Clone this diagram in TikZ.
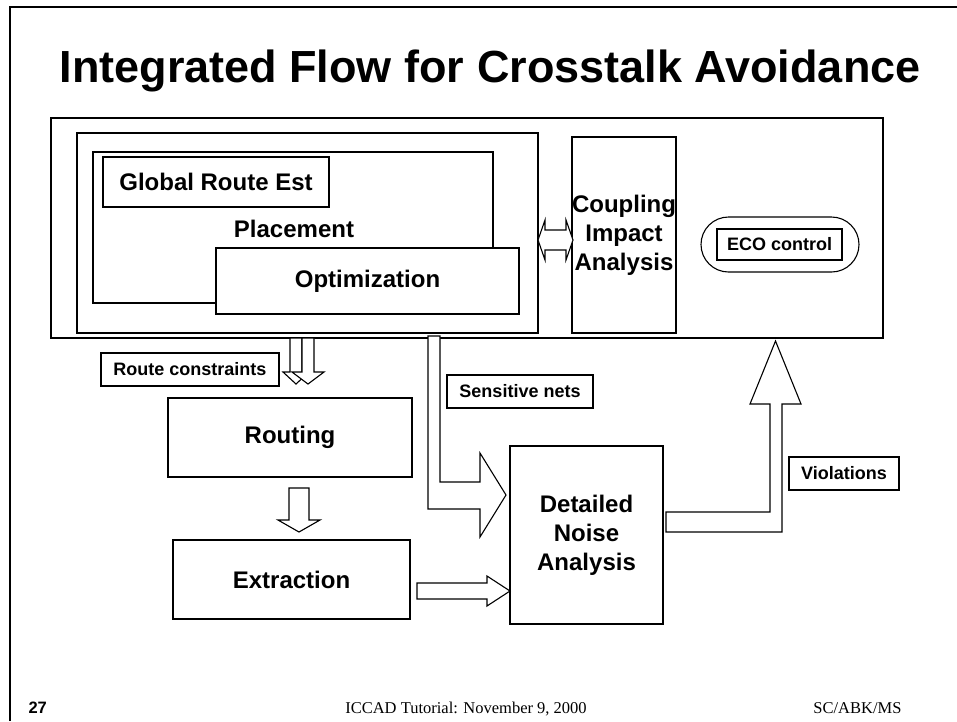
\documentclass[tikz,border=0pt]{standalone}
\usepackage{fontspec}
\setmainfont{Liberation Sans}
\newfontfamily\footserif{Liberation Serif}
\usetikzlibrary{calc}
\begin{document}
\begin{tikzpicture}[x=1pt,y=-1pt,
  box/.style={draw, line width=1.1pt, fill=white, inner sep=0pt, outer sep=0pt},
  lbl/.style={font=\bfseries\fontsize{24}{29}\selectfont, align=center},
  tag/.style={font=\bfseries\fontsize{18}{22}\selectfont},
  blk/.style={draw, line width=1.1pt, fill=white, line join=miter},
  frame/.style={draw, line width=2pt}]
\useasboundingbox (0,0) rectangle (957,721);

% slide frame
\draw[frame] (9.7,721) -- (9.7,6.7) -- (957,6.7);

% title
\node[font=\bfseries\fontsize{45}{54}\selectfont, anchor=base] (title) at (490,82)
  {Integrated Flow for Crosstalk Avoidance};

% placement block
\node[box, minimum width=832pt, minimum height=220pt] (outer) at (467,228) {};
\node[box, minimum width=461pt, minimum height=200pt] (plouter) at (307.5,233) {};
\node[box, minimum width=400pt, minimum height=151pt] (place) at (293,227.5) {};
\node[box, lbl, minimum width=226pt, minimum height=50pt] (gre) at (216,182) {Global Route Est};
\node[lbl, anchor=base] (placelbl) at (294,237) {Placement};
\node[box, lbl, minimum width=303pt, minimum height=66pt] (opt) at (367.5,281) {Optimization};

% coupling analysis
\node[box, lbl, minimum width=102pt, minimum height=196pt] (cia) at (624,235)
  {Coupling\\Impact\\Analysis};

% two-way exchange between placement and coupling analysis
\coordinate (dl) at ($(plouter.east)+(0,7)$);
\draw[blk] (dl) -- ++(7,-20) -- ++(0,10) -- ++(21,0) -- ++(0,-10) -- ++(7,20)
  -- ++(-7,20) -- ++(0,-10) -- ++(-21,0) -- ++(0,10) -- cycle;

% ECO control
\node[box, minimum width=158pt, minimum height=55pt, rounded corners=27.5pt] (ecopill) at (780,244.5) {};
\node[box, tag, minimum width=125pt, minimum height=31pt] (eco) at (779.5,244.5) {ECO control};

% route constraints to routing
\coordinate (rc1) at ($(outer.south west)+(239,0)$);
\draw[blk] (rc1) -- ++(12,0) -- ++(0,34) -- ++(7,0) -- ++(-13,12) -- ++(-13,-12) -- ++(7,0) -- cycle;
\coordinate (rc2) at ($(outer.south west)+(251,0)$);
\draw[blk] (rc2) -- ++(12,0) -- ++(0,34) -- ++(10,0) -- ++(-16,12) -- ++(-16,-12) -- ++(10,0) -- cycle;
\node[box, tag, minimum width=178pt, minimum height=33pt] (rc) at (190,369.5) {Route constraints};

% routing and extraction
\node[box, lbl, minimum width=244pt, minimum height=79pt] (routing) at (290,437.5) {Routing};
\node[box, lbl, minimum width=237pt, minimum height=79pt] (extr) at (291.5,579.5) {Extraction};
\coordinate (r2e) at ($(routing.south)+(-1,11)$);
\draw[blk] (r2e) -- ++(20,0) -- ++(0,32) -- ++(11,0) -- ++(-21,12) -- ++(-21,-12) -- ++(11,0) -- cycle;

% detailed noise analysis
\node[box, lbl, minimum width=153pt, minimum height=178pt] (noise) at (586.5,535)
  {Detailed\\Noise\\Analysis};
\coordinate (e2n) at ($(extr.east)+(7,3.5)$);
\draw[blk] (e2n) -- ++(70,0) -- ++(0,-7) -- ++(23,15) -- ++(-23,15) -- ++(0,-7) -- ++(-70,0) -- cycle;

% sensitive nets from placement
\coordinate (sn) at ($(outer.south west)+(377,-2)$);
\draw[blk] (sn) -- ++(12,0) -- ++(0,146) -- ++(40,0) -- ++(0,-29) -- ++(26,42)
  -- ++(-26,42) -- ++(0,-28) -- ++(-52,0) -- cycle;
\node[box, tag, minimum width=146pt, minimum height=33pt] (snlbl) at (520,391.5) {Sensitive nets};

% violations back to ECO control
\coordinate (vi) at ($(noise.east)+(3,-23)$);
\draw[blk] (vi) -- ++(104,0) -- ++(0,-108) -- ++(-20,0) -- ++(25.5,-63) -- ++(25.5,63)
  -- ++(-19,0) -- ++(0,128) -- ++(-116,0) -- cycle;
\node[box, tag, minimum width=110pt, minimum height=33pt] (viol) at (844,473.5) {Violations};

% footer
\node[font=\bfseries\fontsize{16.5}{19}\selectfont, anchor=base west] (pgno) at (25,713) {27};
\node[font=\footserif\fontsize{16.5}{19}\selectfont, anchor=base] (event) at (466,713)
  {ICCAD Tutorial: November 9, 2000};
\node[font=\footserif\fontsize{16.5}{19}\selectfont, anchor=base east] (authors) at (905,713) {SC/ABK/MS};
\end{tikzpicture}
\end{document}
